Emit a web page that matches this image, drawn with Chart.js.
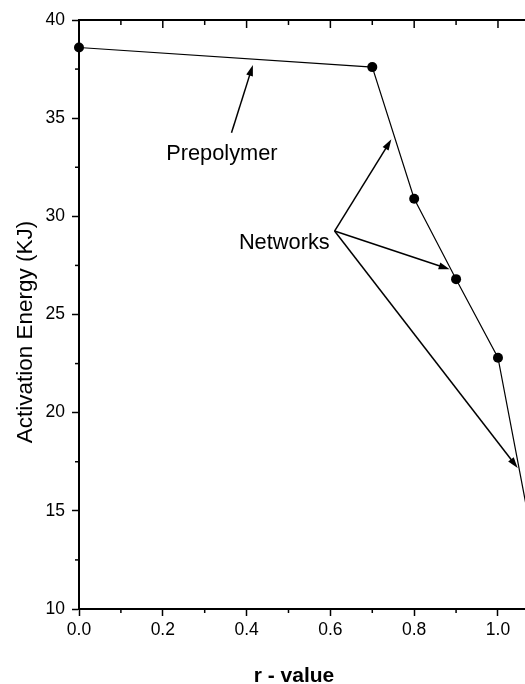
<!DOCTYPE html>
<html>
<head>
<meta charset="utf-8">
<script src="https://cdn.jsdelivr.net/npm/chart.js@4"></script>
<style>
    html, body { margin: 0; padding: 0; background: #fff; }
    #wrap { width: 525px; height: 684px; }
</style>
</head>
<body>
<div id="wrap"><canvas id="energyChart" width="525" height="684"></canvas></div>
<script>
const rValues = [0.0, 0.7, 0.8, 0.9, 1.0, 1.1];
const activationEnergy = [38.6, 37.6, 30.9, 26.8, 22.8, 11.6];
const xTickValues = [0.0, 0.2, 0.4, 0.6, 0.8, 1.0];
const yTickValues = [10, 15, 20, 25, 30, 35, 40];
const xMinorTicks = [0.1, 0.3, 0.5, 0.7, 0.9];
const yMinorTicks = [12.5, 17.5, 22.5, 27.5, 32.5, 37.5];
const xTitle = 'r - value';
const yTitle = 'Activation Energy (KJ)';
// annotation texts and arrows, given in data units [r, energy]
const labelTexts = ['Prepolymer', 'Networks'];
const labelAnchors = [[0.341, 33.2], [0.490, 28.65]];
const arrowTails = [[0.364, 34.26], [0.610, 29.25], [0.610, 29.25], [0.610, 29.25]];
const arrowTips = [[0.415, 37.71], [0.7456, 33.92], [0.8847, 27.30], [1.047, 17.18]];

const fontFamily = '"Liberation Sans", Arial, Helvetica, sans-serif';

function drawArrow(ctx, x1, y1, x2, y2) {
    const ang = Math.atan2(y2 - y1, x2 - x1);
    const len = 11, half = 3.5;
    ctx.beginPath();
    ctx.moveTo(x1, y1);
    ctx.lineTo(x2 - Math.cos(ang) * len * 0.8, y2 - Math.sin(ang) * len * 0.8);
    ctx.stroke();
    ctx.beginPath();
    ctx.moveTo(x2, y2);
    ctx.lineTo(x2 - Math.cos(ang) * len - Math.sin(ang) * half, y2 - Math.sin(ang) * len + Math.cos(ang) * half);
    ctx.lineTo(x2 - Math.cos(ang) * len + Math.sin(ang) * half, y2 - Math.sin(ang) * len - Math.cos(ang) * half);
    ctx.closePath();
    ctx.fill();
}

const decorations = {
    id: 'decorations',
    afterDraw(chart) {
        const ctx = chart.ctx;
        const xs = chart.scales.x, ys = chart.scales.y;
        const area = chart.chartArea;
        ctx.save();
        ctx.strokeStyle = '#000';
        ctx.fillStyle = '#000';

        // top frame line with inward ticks
        ctx.lineWidth = 2;
        ctx.beginPath();
        ctx.moveTo(area.left - 1, area.top);
        ctx.lineTo(chart.width, area.top);
        ctx.stroke();
        ctx.lineWidth = 1.5;
        xTickValues.forEach(v => {
            const px = xs.getPixelForValue(v);
            ctx.beginPath(); ctx.moveTo(px, area.top); ctx.lineTo(px, area.top + 8); ctx.stroke();
        });
        xMinorTicks.forEach(v => {
            const px = xs.getPixelForValue(v);
            ctx.beginPath(); ctx.moveTo(px, area.top); ctx.lineTo(px, area.top + 5); ctx.stroke();
            // minor ticks below the bottom axis
            ctx.beginPath(); ctx.moveTo(px, area.bottom); ctx.lineTo(px, area.bottom + 4); ctx.stroke();
        });
        yMinorTicks.forEach(v => {
            const py = ys.getPixelForValue(v);
            ctx.beginPath(); ctx.moveTo(area.left, py); ctx.lineTo(area.left - 4, py); ctx.stroke();
        });

        // annotations
        ctx.lineWidth = 1.5;
        arrowTails.forEach((t, i) => {
            drawArrow(ctx,
                xs.getPixelForValue(t[0]), ys.getPixelForValue(t[1]),
                xs.getPixelForValue(arrowTips[i][0]), ys.getPixelForValue(arrowTips[i][1]));
        });
        ctx.font = '21.8px ' + fontFamily;
        ctx.textAlign = 'center';
        ctx.textBaseline = 'middle';
        labelTexts.forEach((txt, i) => {
            ctx.fillText(txt, xs.getPixelForValue(labelAnchors[i][0]), ys.getPixelForValue(labelAnchors[i][1]));
        });

        // axis titles
        ctx.font = 'bold 21px ' + fontFamily;
        ctx.textBaseline = 'alphabetic';
        ctx.fillText(xTitle, 294, 682);
        ctx.save();
        ctx.translate(32, 332);
        ctx.rotate(-Math.PI / 2);
        ctx.font = '22.5px ' + fontFamily;
        ctx.fillText(yTitle, 0, 0);
        ctx.restore();
        ctx.restore();
    }
};

const ctx = document.getElementById('energyChart').getContext('2d');
new Chart(ctx, {
    type: 'scatter',
    data: {
        datasets: [{
            data: rValues.map((r, i) => ({ x: r, y: activationEnergy[i] })),
            showLine: true,
            borderColor: '#000',
            borderWidth: 1.2,
            pointRadius: 5,
            pointHoverRadius: 5,
            pointBackgroundColor: '#000',
            pointBorderWidth: 0,
            clip: { left: 10, top: 10, right: 0, bottom: 0 }
        }]
    },
    options: {
        responsive: false,
        animation: false,
        events: [],
        layout: { autoPadding: false, padding: { top: 20, right: 0, left: 0, bottom: 0 } },
        plugins: { legend: { display: false }, tooltip: { enabled: false } },
        scales: {
            x: {
                type: 'linear',
                position: 'bottom',
                min: 0,
                max: 1.0645,
                afterBuildTicks: s => { s.ticks = xTickValues.map(v => ({ value: v })); },
                afterFit: s => { s.height = 75; s.paddingRight = 0; s.paddingLeft = 0; },
                ticks: {
                    callback: v => v.toFixed(1),
                    color: '#000',
                    font: { family: fontFamily, size: 17.5 },
                    padding: 4,
                    maxRotation: 0,
                    autoSkip: false
                },
                grid: { drawOnChartArea: false, drawTicks: true, tickLength: 7, tickColor: '#000', tickWidth: 1.5 },
                border: { display: true, color: '#000', width: 2 }
            },
            y: {
                type: 'linear',
                min: 10,
                max: 40,
                afterBuildTicks: s => { s.ticks = yTickValues.map(v => ({ value: v })); },
                afterFit: s => { s.width = 79; },
                ticks: {
                    callback: v => String(v),
                    color: '#000',
                    font: { family: fontFamily, size: 17.5 },
                    padding: 7
                },
                grid: { drawOnChartArea: false, drawTicks: true, tickLength: 7, tickColor: '#000', tickWidth: 1.5 },
                border: { display: true, color: '#000', width: 2 }
            }
        }
    },
    plugins: [decorations]
});
</script>
</body>
</html>
